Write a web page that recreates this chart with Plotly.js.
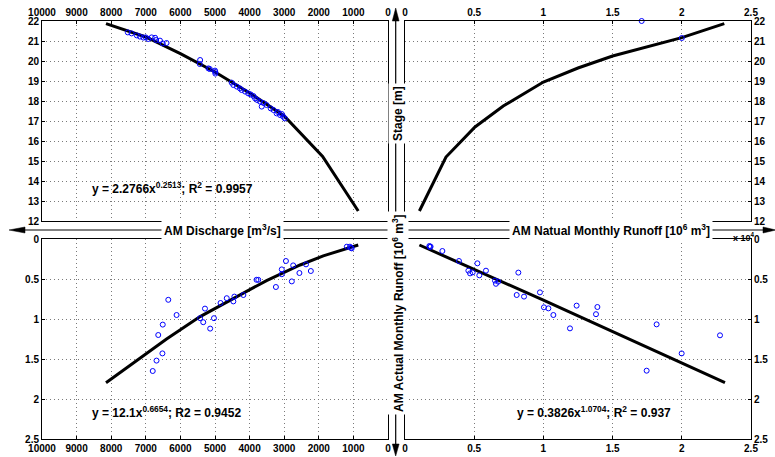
<!DOCTYPE html>
<html>
<head>
<meta charset="utf-8">
<script src="https://cdn.plot.ly/plotly-3.0.1.min.js"></script>
<style>html,body{margin:0;padding:0;background:#fff;}#chart{width:775px;height:457px;}</style>
</head>
<body>
<div id="chart"></div>
<script>
// ---------- DATA ----------
// Top-left: AM Discharge [m3/s] vs Stage [m]
const tlDischarge = [7520,7410,7260,7170,7070,7000,6930,6830,6730,6700,6590,6510,6400,
  5430,5440,5190,5150,5000,4990,4990,
  4520,4470,4370,4280,4230,4130,4040,3970,3890,3840,3780,3700,3650,3600,3510,3390,3310,3220,3180,3120,3070,3030,2980];
const tlStage = [21.43,21.38,21.28,21.22,21.17,21.18,21.10,21.18,21.16,21.05,21.02,20.88,20.90,
  20.05,19.85,19.63,19.60,19.52,19.45,19.37,
  18.92,18.80,18.72,18.63,18.55,18.47,18.38,18.33,18.25,18.13,18.05,17.97,17.72,17.90,17.80,17.63,17.55,17.38,17.45,17.30,17.35,17.22,17.13];
const tlFitDischarge = [8150,7000,6000,5000,4000,3000,1890,860];
const tlFitStage = [21.87,21.2,20.37,19.45,18.4,17.25,15.23,12.5];

// Top-right: AM Natural Monthly Runoff vs Stage
const trRunoff = [1.71,2.00];
const trStage = [22.0,21.15];
const trFitRunoff = [0.104,0.296,0.506,0.71,1.0,1.25,1.5,2.0,2.307];
const trFitStage = [12.5,15.2,16.7,17.75,18.95,19.65,20.25,21.17,21.87];

// Bottom-left: AM Discharge vs AM Actual Monthly Runoff
const blDischarge = [1190,1100,1050,1070,2370,2230,2560,2950,2740,3070,3070,2780,3240,3800,3750,
  4660,4470,4440,4180,4840,5290,5030,5430,5340,5140,6350,6110,6510,6640,6520,6690,6800];
const blActual = [0.096,0.096,0.117,0.11,0.317,0.40,0.425,0.275,0.33,0.38,0.44,0.53,0.60,0.51,0.51,
  0.74,0.78,0.72,0.70,0.80,0.87,0.99,0.99,1.04,1.12,0.76,0.95,1.07,1.20,1.43,1.52,1.65];
const blFitDischarge = [8150,7360,6400,5430,4470,3510,2540,1870,860];
const blFitActual = [1.796,1.546,1.25,0.97,0.74,0.52,0.325,0.21,0.075];

// Bottom-right: AM Natural Monthly Runoff vs AM Actual Monthly Runoff
const brNatural = [0.176,0.18,0.185,0.27,0.39,0.458,0.47,0.489,0.523,0.537,0.585,0.65,0.657,0.674,
  0.819,0.807,0.86,0.975,1.004,1.036,1.072,1.192,1.24,1.38,1.39,1.746,1.818,1.999,2.276];
const brActual = [0.0875,0.10,0.095,0.15,0.275,0.396,0.43,0.417,0.304,0.454,0.396,0.52,0.56,0.533,
  0.42,0.70,0.72,0.667,0.854,0.867,0.95,1.117,0.833,0.94,0.85,1.646,1.067,1.43,1.204];
const brFitNatural = [0.104,1.0,2.312];
const brFitActual = [0.075,0.765,1.796];

// Tick values and labels
const dischargeTicks = [10000,9000,8000,7000,6000,5000,4000,3000,2000,1000,0];
const dischargeLabels = ['10000','9000','8000','7000','6000','5000','4000','3000','2000','1000','0'];
const runoffTicks = [0,0.5,1,1.5,2,2.5];
const runoffLabels = ['0','0.5','1','1.5','2','2.5'];
const stageTicks = [12,13,14,15,16,17,18,19,20,21,22];
const stageLabels = ['12','13','14','15','16','17','18','19','20','21','22'];
const actualTicks = [0,0.5,1,1.5,2,2.5];
const actualLabels = ['0','0.5','1','1.5','2','2.5'];

// ---------- LAYOUT HELPERS ----------
const W = 775, H = 457;
const px = x => x / W;
const py = y => 1 - y / H;
const FONT = 'Liberation Sans, Arial, Helvetica, sans-serif';

const circ = {symbol:'circle-open', size:5, color:'#0000ff', line:{width:1, color:'#0000ff'}};
const fitLine = {color:'#000', width:3};

const traces = [
  {x:tlFitDischarge, y:tlFitStage, xaxis:'x', yaxis:'y', mode:'lines', line:fitLine},
  {x:tlDischarge, y:tlStage, xaxis:'x', yaxis:'y', mode:'markers', marker:circ},
  {x:trFitRunoff, y:trFitStage, xaxis:'x2', yaxis:'y2', mode:'lines', line:fitLine},
  {x:trRunoff, y:trStage, xaxis:'x2', yaxis:'y2', mode:'markers', marker:circ, cliponaxis:false},
  {x:blFitDischarge, y:blFitActual, xaxis:'x3', yaxis:'y3', mode:'lines', line:fitLine},
  {x:blDischarge, y:blActual, xaxis:'x3', yaxis:'y3', mode:'markers', marker:circ},
  {x:brFitNatural, y:brFitActual, xaxis:'x4', yaxis:'y4', mode:'lines', line:fitLine},
  {x:brNatural, y:brActual, xaxis:'x4', yaxis:'y4', mode:'markers', marker:circ}
];

function ax(extra){
  return Object.assign({
    showgrid:true, gridcolor:'#7a7a7a', griddash:'1px,3px', gridwidth:1,
    zeroline:false, showline:true, linecolor:'#000', linewidth:1, mirror:true,
    ticks:'inside', ticklen:3, tickcolor:'#000',
    tickfont:{family:FONT, size:10, color:'#000', weight:'bold'},
    tickmode:'array', fixedrange:true, automargin:false
  }, extra);
}

const LX = [px(42), px(388)], RX = [px(405), px(751)];
const TY = [py(221), py(21)], BY = [py(439), py(239)];

const layout = {
  width:W, height:H, margin:{l:0,r:0,t:0,b:0}, showlegend:false,
  paper_bgcolor:'#fff', plot_bgcolor:'#fff',
  xaxis: ax({domain:LX, anchor:'y', side:'top', range:[10000,0], tickvals:dischargeTicks, ticktext:dischargeLabels}),
  yaxis: ax({domain:TY, anchor:'x', side:'left', range:[12,22], tickvals:stageTicks, ticktext:stageLabels}),
  xaxis2: ax({domain:RX, anchor:'y2', side:'top', range:[0,2.5], tickvals:runoffTicks, ticktext:runoffLabels}),
  yaxis2: ax({domain:TY, anchor:'x2', side:'right', range:[12,22], tickvals:stageTicks, ticktext:stageLabels}),
  xaxis3: ax({domain:LX, anchor:'y3', side:'bottom', range:[10000,0], tickvals:dischargeTicks, ticktext:dischargeLabels}),
  yaxis3: ax({domain:BY, anchor:'x3', side:'left', range:[2.5,0], tickvals:actualTicks, ticktext:actualLabels}),
  xaxis4: ax({domain:RX, anchor:'y4', side:'bottom', range:[0,2.5], tickvals:runoffTicks, ticktext:runoffLabels}),
  yaxis4: ax({domain:BY, anchor:'x4', side:'right', range:[2.5,0], tickvals:actualTicks, ticktext:actualLabels}),
  shapes: [
    // horizontal arrow shaft
    {type:'line', xref:'paper', yref:'paper', x0:px(22), x1:px(765), y0:py(230), y1:py(230),
     line:{color:'#808080', width:2}, layer:'above'},
    // vertical arrow shaft
    {type:'line', xref:'paper', yref:'paper', x0:px(395.7), x1:px(395.7), y0:py(18), y1:py(447),
     line:{color:'#000', width:1.2}, layer:'above'},
    // arrow heads
    {type:'path', xref:'paper', yref:'paper', layer:'above', fillcolor:'#000', line:{color:'#000', width:0.5},
     path:`M ${px(9)} ${py(230)} L ${px(25)} ${py(227)} L ${px(25)} ${py(233)} Z`},
    {type:'path', xref:'paper', yref:'paper', layer:'above', fillcolor:'#000', line:{color:'#000', width:0.5},
     path:`M ${px(776)} ${py(230)} L ${px(763)} ${py(227)} L ${px(763)} ${py(233)} Z`},
    {type:'path', xref:'paper', yref:'paper', layer:'above', fillcolor:'#000', line:{color:'#000', width:0.5},
     path:`M ${px(395.7)} ${py(8)} L ${px(392.3)} ${py(21)} L ${px(399.1)} ${py(21)} Z`},
    {type:'path', xref:'paper', yref:'paper', layer:'above', fillcolor:'#000', line:{color:'#000', width:0.5},
     path:`M ${px(395.7)} ${py(456)} L ${px(392.3)} ${py(444)} L ${px(399.1)} ${py(444)} Z`}
  ],
  annotations: [
    {xref:'paper', yref:'paper', x:px(222), y:py(230), xanchor:'center', yanchor:'middle', showarrow:false,
     text:'AM Discharge [m<sup>3</sup>/s]', bgcolor:'#fff', borderpad:2,
     font:{family:FONT, size:12, color:'#000', weight:'bold'}},
    {xref:'paper', yref:'paper', x:px(611), y:py(230), xanchor:'center', yanchor:'middle', showarrow:false,
     text:'AM Natual Monthly Runoff [10<sup>6</sup> m<sup>3</sup>]', bgcolor:'#fff', borderpad:2,
     font:{family:FONT, size:12, color:'#000', weight:'bold'}},
    {xref:'paper', yref:'paper', x:px(398), y:py(114), xanchor:'center', yanchor:'middle', showarrow:false,
     text:'Stage [m]', textangle:-90, bgcolor:'#fff', borderpad:2,
     font:{family:FONT, size:12, color:'#000', weight:'bold'}},
    {xref:'paper', yref:'paper', x:px(398), y:py(313), xanchor:'center', yanchor:'middle', showarrow:false,
     text:'AM Actual Monthly Runoff [10<sup>6</sup> m<sup>3</sup>]', textangle:-90, bgcolor:'#fff', borderpad:2,
     font:{family:FONT, size:12, color:'#000', weight:'bold'}},
    {xref:'paper', yref:'paper', x:px(172), y:py(188), xanchor:'center', yanchor:'middle', showarrow:false,
     text:'y = 2.2766x<sup>0.2513</sup>; R<sup>2</sup> = 0.9957',
     font:{family:FONT, size:12, color:'#000', weight:'bold'}},
    {xref:'paper', yref:'paper', x:px(166), y:py(412), xanchor:'center', yanchor:'middle', showarrow:false,
     text:'y = 12.1x<sup>0.6654</sup>; R2 = 0.9452',
     font:{family:FONT, size:12, color:'#000', weight:'bold'}},
    {xref:'paper', yref:'paper', x:px(594), y:py(412), xanchor:'center', yanchor:'middle', showarrow:false,
     text:'y = 0.3826x<sup>1.0704</sup>; R<sup>2</sup> = 0.937',
     font:{family:FONT, size:12, color:'#000', weight:'bold'}},
    {xref:'paper', yref:'paper', x:px(744), y:py(237), xanchor:'center', yanchor:'middle', showarrow:false,
     text:'x 10<sup>4</sup>',
     font:{family:FONT, size:9, color:'#000', weight:'bold'}}
  ]
};

Plotly.newPlot('chart', traces, layout, {staticPlot:true, displayModeBar:false});
</script>
</body>
</html>
